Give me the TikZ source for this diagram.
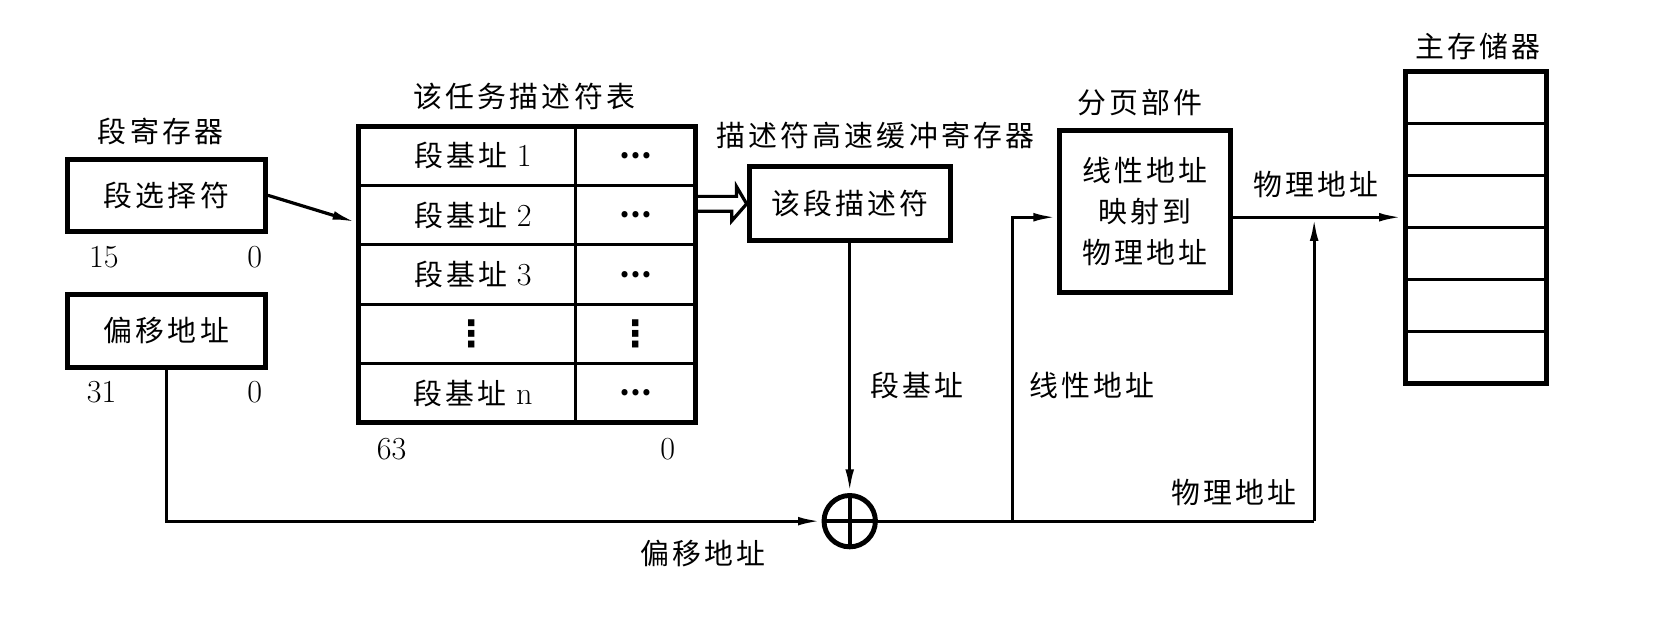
\documentclass[tikz,border=0pt]{standalone}
\usepackage{fontspec}
\newfontfamily\cjk[LetterSpace=11]{Noto Sans CJK SC}
\newfontfamily\symf{DejaVu Sans}
\newcommand{\rn}[1]{{\fontsize{15}{18}\rmfamily #1}}
\usetikzlibrary{arrows.meta}

\begin{document}
\begin{tikzpicture}[x=0.5pt,y=-0.5pt]
\tikzset{box/.style = {draw, line width=2.3pt, inner sep=0pt}}
\tikzset{lbl/.style = {inner sep=0pt, font=\fontsize{13.5}{19.25}\cjk}}
\tikzset{num/.style = {inner sep=0pt, font=\fontsize{15}{18}\selectfont}}
\tikzset{hdots/.style = {inner sep=0pt, font=\fontsize{13.5}{16}\cjk\bfseries}}
\tikzset{vdots/.style = {inner sep=0pt, font=\fontsize{17}{20}\symf\bfseries}}
\tikzset{wire/.style = {line width=1.5pt}}
\tikzset{conn/.style = {wire, -{Latex[length=11pt,width=4pt]}}}
\tikzset{grid/.style = {line width=1.4pt}}
\useasboundingbox (0,0) rectangle (1568,576);

% segment register and offset
\node[lbl] (regt) at (150,123) {段寄存器};
\node[box, lbl, minimum width=92.5pt, minimum height=33.5pt] (sel) at (155.5,182.5) {段选择符};
\node[num] (sel15) at (97,240) {15};
\node[num] (sel0) at (238,240) {0};
\node[box, lbl, minimum width=92.5pt, minimum height=34pt] (off) at (155.5,309) {偏移地址};
\node[num] (off31) at (95,366) {31};
\node[num] (off0) at (238,366) {0};

% descriptor table
\node[lbl] (tabt) at (490,90) {该任务描述符表};
\node[box, minimum width=157.5pt, minimum height=138.5pt] (tab) at (492.5,256.5) {};
\draw[grid] (335,173.4) -- (650,173.4);
\draw[grid] (335,228.8) -- (650,228.8);
\draw[grid] (335,284.2) -- (650,284.2);
\draw[grid] (335,339.6) -- (650,339.6);
\draw[grid] (538,118) -- (538,395);
\node[lbl] (b1) at (442,145.7) {段基址 \rn{1}};
\node[lbl] (b2) at (442,201.1) {段基址 \rn{2}};
\node[lbl] (b3) at (442,256.5) {段基址 \rn{3}};
\node[vdots] (bv) at (441,311.9) {⋮};
\node[lbl] (bn) at (442,367.3) {段基址 \rn{n}};
\node[hdots] (d1) at (594,145.7) {…};
\node[hdots] (d2) at (594,201.1) {…};
\node[hdots] (d3) at (594,256.5) {…};
\node[vdots] (dv) at (594,311.9) {⋮};
\node[hdots] (dn) at (594,367.3) {…};
\node[num] (tab63) at (366,420) {63};
\node[num] (tab0) at (624,420) {0};

% descriptor cache and adder
\node[lbl] (desct) at (818,127) {描述符高速缓冲寄存器};
\node[box, lbl, minimum width=94pt, minimum height=34.5pt] (desc) at (794,190.5) {该段描述符};
\node[box, circle, minimum size=24pt] (sum) at (794,487) {};
\draw[line width=1.8pt] (sum.north) -- (sum.south);
\draw[line width=1.8pt] (sum.west) -- (sum.east);

% paging unit and memory
\node[lbl] (pagt) at (1065,96) {分页部件};
\node[box, lbl, align=center, minimum width=80pt, minimum height=75.5pt] (pag) at (1070,197.5) {线性地址\\映射到\\物理地址};
\node[lbl] (memt) at (1381,43) {主存储器};
\node[box, minimum width=66pt, minimum height=145.5pt] (mem) at (1379,212.5) {};
\draw[grid] (1313,115.5) -- (1445,115.5);
\draw[grid] (1313,164) -- (1445,164);
\draw[grid] (1313,212.5) -- (1445,212.5);
\draw[grid] (1313,261) -- (1445,261);
\draw[grid] (1313,309.5) -- (1445,309.5);

% connectors
\draw[conn] (sel.east) -- ([yshift=-46pt]tab.north west);
\coordinate (dd) at (tab.east |- desc.west);
\draw[wire] ([yshift=3.5pt]dd) -- ++(18pt,0) -- ++(0,4.5pt) -- (desc.west)
  -- ++(-7pt,-8pt) -- ++(0,4.5pt) -- ++(-18pt,0);
\draw[conn] (desc.south) -- (sum.north);
\draw[conn] (off.south) |- (sum.west);
\coordinate (lj) at (946,487);
\coordinate (pj) at (1228,487);
\coordinate (pin) at ([yshift=-2.75pt]pag.west);
\coordinate (pout) at ([yshift=-2.75pt]pag.east);
\draw[wire] (sum.east) -- (pj);
\draw[conn] (lj) |- (pin);
\draw[conn] (pout) -- (pout -| mem.west);
\draw[conn] (pj) -- (pj |- pout);

% connector labels
\node[lbl] (segb) at (857,360) {段基址};
\node[lbl] (lina) at (1020,360) {线性地址};
\node[lbl] (phy1) at (1230,172) {物理地址};
\node[lbl] (phy2) at (1153,460) {物理地址};
\node[lbl] (offa) at (657,517) {偏移地址};

\end{tikzpicture}
\end{document}
